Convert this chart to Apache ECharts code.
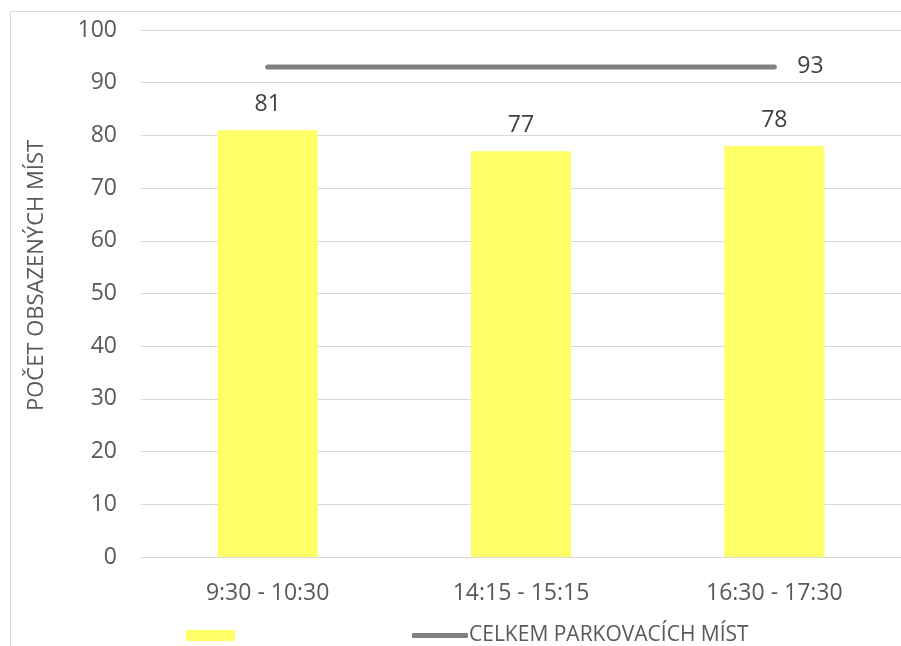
<!DOCTYPE html>
<html>
<head>
<meta charset="utf-8">
<script src="https://cdn.jsdelivr.net/npm/echarts@6/dist/echarts.min.js"></script>
<style>
  html, body { margin: 0; padding: 0; background: #fff; }
  #chart { width: 901px; height: 646px; }
</style>
</head>
<body>
<div id="chart"></div>
<script>
  // data
  var categories = ['9:30 - 10:30', '14:15 - 15:15', '16:30 - 17:30'];
  var occupied = [81, 77, 78];
  var capacity = [93, 93, 93];
  var yTicks = { min: 0, max: 100, interval: 10 };

  var txt = '#595959';
  var font = 'Open Sans';

  var chart = echarts.init(document.getElementById('chart'));
  chart.setOption({
    animation: false,
    textStyle: { fontFamily: font },
    graphic: [{
      type: 'rect',
      shape: { x: 10.5, y: 11.5, width: 1000, height: 1000 },
      style: { fill: 'none', stroke: '#d9d9d9', lineWidth: 1 },
      silent: true
    }],
    grid: { left: 141, right: -2, top: 30, bottom: 89 },
    legend: [{
      left: 181, top: 625,
      itemWidth: 49, itemHeight: 11,
      data: [{ name: ' ', icon: 'rect' }],
      textStyle: { fontSize: 1 }
    }, {
      left: 407, top: 620,
      itemWidth: 56, itemHeight: 5, itemGap: 4,
      data: [{ name: 'CELKEM PARKOVACÍCH MÍST', icon: 'roundRect' }],
      textStyle: { color: txt, fontSize: 21, fontFamily: font, padding: [0, 0, 0, -4] }
    }],
    xAxis: {
      type: 'category',
      data: categories,
      axisTick: { show: false },
      axisLine: { lineStyle: { color: '#d9d9d9', width: 1 } },
      axisLabel: { color: txt, fontSize: 23, margin: 25, fontFamily: font }
    },
    yAxis: {
      type: 'value',
      min: yTicks.min, max: yTicks.max, interval: yTicks.interval,
      name: 'POČET OBSAZENÝCH MÍST',
      nameLocation: 'middle',
      nameGap: 93,
      nameTextStyle: { color: txt, fontSize: 22, fontFamily: font, padding: [0, 0, 0, 36] },
      axisLine: { show: false },
      axisTick: { show: false },
      axisLabel: { color: txt, fontSize: 23, margin: 24, fontFamily: font },
      splitLine: { lineStyle: { color: '#d9d9d9', width: 1 } }
    },
    series: [{
      name: ' ',
      type: 'bar',
      data: occupied,
      barWidth: 100,
      itemStyle: { color: '#ffff66' },
      label: { show: true, position: 'top', distance: 14, color: '#404040', fontSize: 23, fontFamily: font }
    }, {
      name: 'CELKEM PARKOVACÍCH MÍST',
      type: 'line',
      data: capacity,
      symbol: 'none',
      lineStyle: { color: '#808080', width: 5, cap: 'round' },
      itemStyle: { color: '#808080' },
      endLabel: { show: true, formatter: '{c}', distance: 23, color: '#404040', fontSize: 23, fontFamily: font }
    }]
  });
</script>
</body>
</html>
